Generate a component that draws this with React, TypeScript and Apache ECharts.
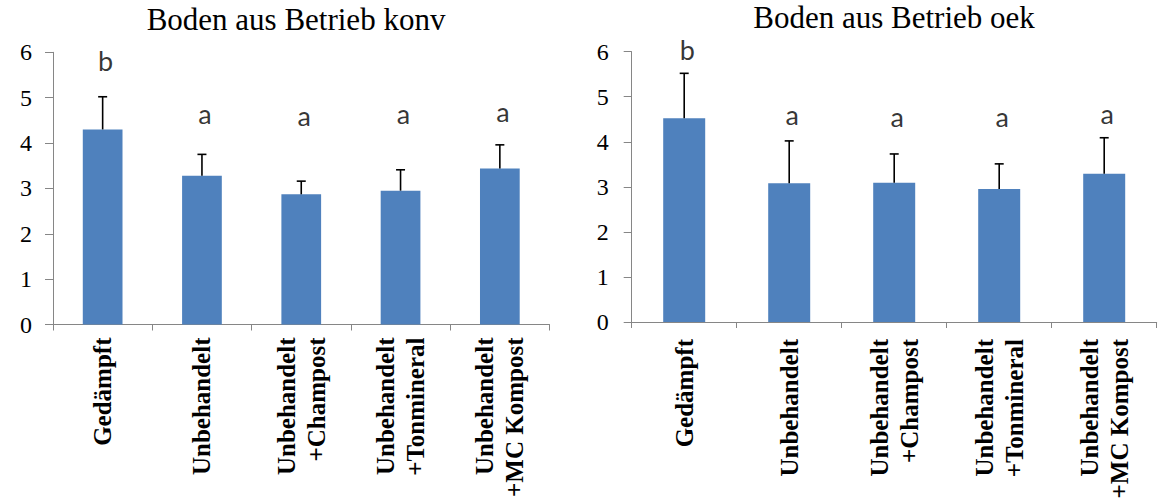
import React, { useEffect, useRef } from "react";
import * as echarts from "echarts";

const categories = [
  "Gedämpft",
  "Unbehandelt",
  "Unbehandelt\n+Champost",
  "Unbehandelt\n+Tonmineral",
  "Unbehandelt\n+MC Kompost",
];
const yTicks = [0, 1, 2, 3, 4, 5, 6];

const konvTitle = "Boden aus Betrieb konv";
const konvMeans = [4.3, 3.28, 2.87, 2.95, 3.44];
const konvErr = [0.72, 0.47, 0.29, 0.46, 0.52];
const konvLetters = ["b", "a", "a", "a", "a"];
const konvLetterY = [5.81, 4.65, 4.61, 4.64, 4.7];

const oekTitle = "Boden aus Betrieb oek";
const oekMeans = [4.52, 3.08, 3.09, 2.95, 3.29];
const oekErr = [1.0, 0.94, 0.64, 0.56, 0.8];
const oekLetters = ["b", "a", "a", "a", "a"];
const oekLetterY = [6.04, 4.6, 4.57, 4.56, 4.63];

const AXIS_GRAY = "#868686";
const BAR_BLUE = "#4F81BD";
const SERIF = "Liberation Serif";
const SANS = "Lato";

function xAxisCfg(gridIndex: number, margin: number) {
  return {
    type: "category",
    gridIndex,
    data: categories,
    boundaryGap: true,
    axisLine: { show: true, lineStyle: { color: AXIS_GRAY, width: 1 } },
    axisTick: { show: true, length: 6, alignWithLabel: false, lineStyle: { color: AXIS_GRAY } },
    axisLabel: {
      interval: 0,
      rotate: 90,
      margin,
      color: "#000",
      fontFamily: SERIF,
      fontWeight: "bold",
      fontSize: 25,
      lineHeight: 30,
    },
    splitLine: { show: false },
  };
}

function yAxisCfg(gridIndex: number, margin: number) {
  return {
    type: "value",
    gridIndex,
    min: yTicks[0],
    max: yTicks[yTicks.length - 1],
    interval: 1,
    axisLine: { show: true, lineStyle: { color: AXIS_GRAY, width: 1 } },
    axisTick: { show: true, length: 8, lineStyle: { color: AXIS_GRAY } },
    axisLabel: {
      show: true,
      margin,
      color: "#000",
      fontFamily: SERIF,
      fontStyle: "normal",
      fontWeight: "normal",
      fontSize: 24,
      textStyle: { fontFamily: SERIF, fontSize: 24, color: "#000" },
    },
    splitLine: { show: false },
  };
}

function errorRender(params: any, api: any) {
  const x = api.value(0);
  const lo = api.coord([x, api.value(1)]);
  const hi = api.coord([x, api.value(2)]);
  const style = { stroke: "#000", lineWidth: 1.6 };
  return {
    type: "group",
    children: [
      { type: "line", shape: { x1: lo[0], y1: lo[1], x2: hi[0], y2: hi[1] }, style },
      { type: "line", shape: { x1: hi[0] - 4.5, y1: hi[1], x2: hi[0] + 4.5, y2: hi[1] }, style },
    ],
  };
}

function seriesFor(idx: number, means: number[], errs: number[], letters: string[], letterY: number[]) {
  return [
    {
      type: "bar",
      xAxisIndex: idx,
      yAxisIndex: idx,
      data: means,
      barWidth: "40%",
      itemStyle: { color: BAR_BLUE },
      z: 2,
    },
    {
      type: "custom",
      xAxisIndex: idx,
      yAxisIndex: idx,
      renderItem: errorRender,
      encode: { x: 0, y: [1, 2] },
      data: means.map((m, i) => [i, m, m + errs[i]]),
      z: 3,
    },
    {
      type: "scatter",
      xAxisIndex: idx,
      yAxisIndex: idx,
      clip: false,
      symbolSize: 1,
      itemStyle: { color: "rgba(0,0,0,0)" },
      data: letterY.map((v, i) => [i, v]),
      label: {
        show: true,
        position: "inside",
        formatter: (p: any) => letters[p.dataIndex],
        color: "#000",
        fontFamily: SANS,
        fontSize: 27,
        offset: [3, 0],
      },
      emphasis: { disabled: true },
      z: 4,
    },
  ];
}

export default function App() {
  const ref = useRef<HTMLDivElement>(null);
  useEffect(() => {
    if (!ref.current) return;
    const chart = echarts.init(ref.current, null, { renderer: "svg" });
    chart.setOption({
      animation: false,
      backgroundColor: "#fff",
      textStyle: { fontFamily: SERIF, color: "#000" },
      grid: [
        { left: 53, top: 52.3, width: 496.5, height: 272.2, outerBoundsMode: "none", containLabel: false },
        { left: 631.7, top: 51.7, width: 525, height: 270.3, outerBoundsMode: "none", containLabel: false },
      ],
      xAxis: [xAxisCfg(0, 13), xAxisCfg(1, 17)],
      yAxis: [yAxisCfg(0, 21), yAxisCfg(1, 23)],
      graphic: [
        {
          type: "text",
          x: 296,
          y: 19,
          style: {
            text: konvTitle,
            align: "center",
            verticalAlign: "middle",
            fontFamily: SERIF,
            fontSize: 31,
            fill: "#000",
          },
        },
        {
          type: "text",
          x: 894,
          y: 17,
          style: {
            text: oekTitle,
            align: "center",
            verticalAlign: "middle",
            fontFamily: SERIF,
            fontSize: 31,
            fill: "#000",
          },
        },
      ],
      series: [
        ...seriesFor(0, konvMeans, konvErr, konvLetters, konvLetterY),
        ...seriesFor(1, oekMeans, oekErr, oekLetters, oekLetterY),
      ],
    });
    return () => chart.dispose();
  }, []);
  return (
    <div
      ref={ref}
      style={{ position: "absolute", left: 0, top: 0, width: 1161, height: 502, background: "#fff" }}
    />
  );
}
